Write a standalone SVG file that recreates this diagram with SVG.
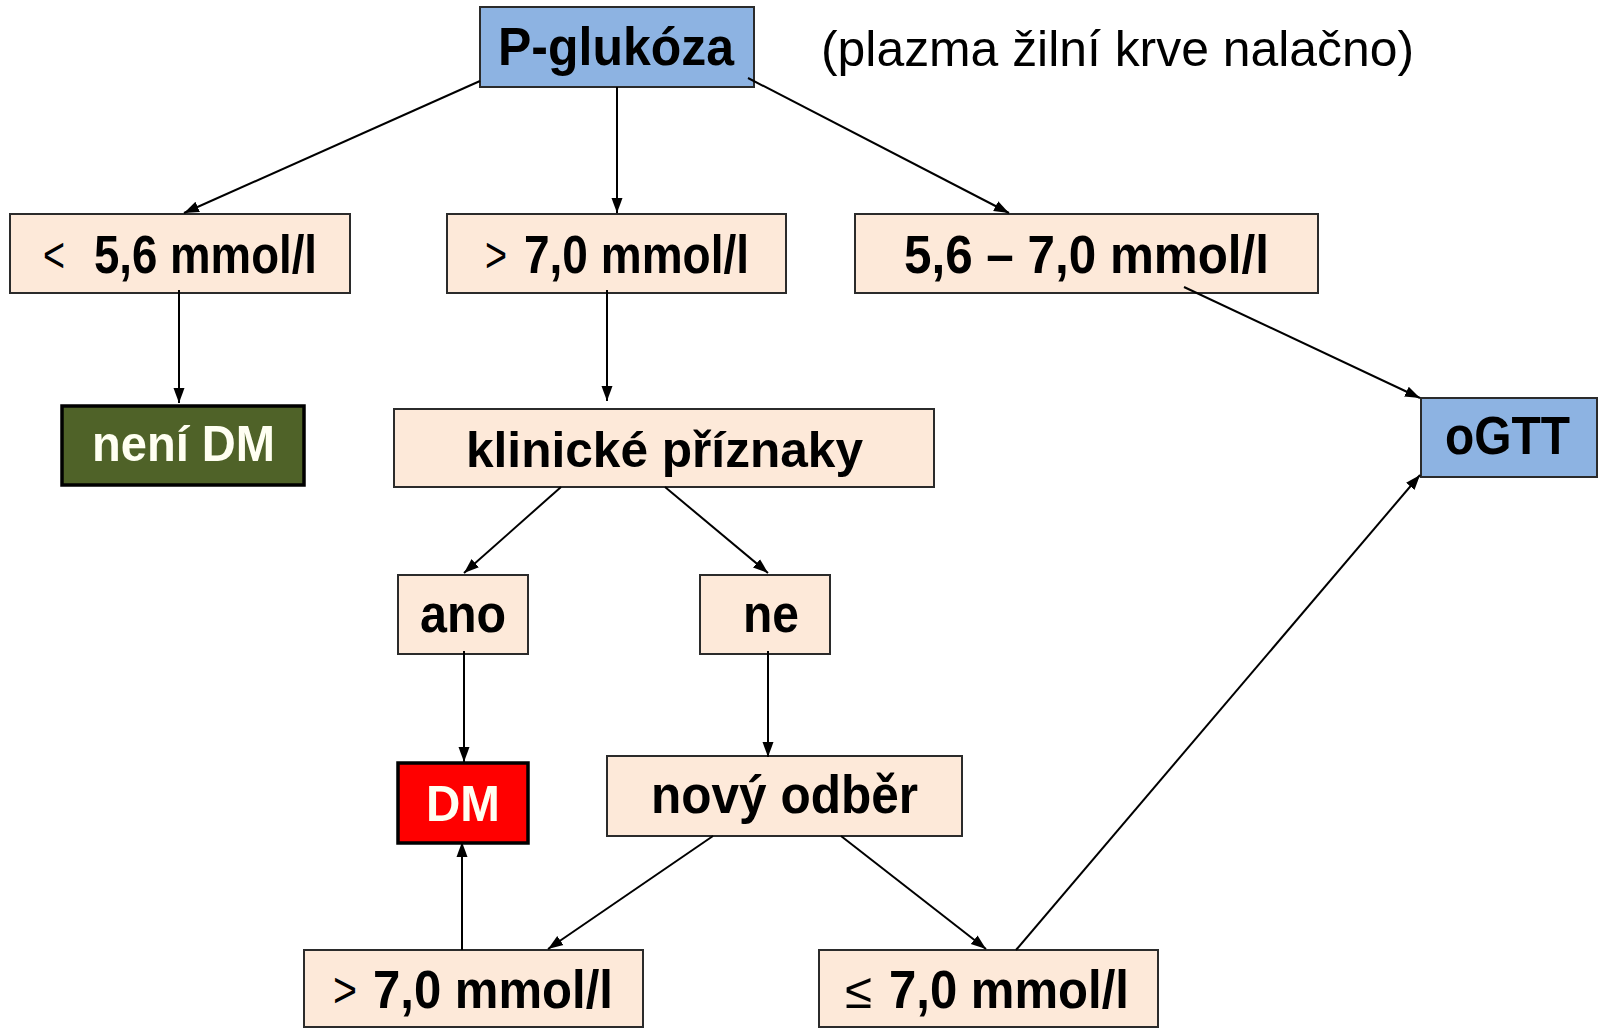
<svg xmlns="http://www.w3.org/2000/svg" width="1598" height="1028" viewBox="0 0 1598 1028">
  <defs>
    <marker id="arrow" markerUnits="userSpaceOnUse" markerWidth="16" markerHeight="14" refX="15" refY="7" orient="auto">
      <path d="M0,1.5 L15,7 L0,12.5 z" fill="#000"/>
    </marker>
    <style>
      .peach { fill: #FDE9D9; stroke: #2b2b2b; stroke-width: 2; }
      .blue { fill: #8DB3E2; stroke: #2b2b2b; stroke-width: 2; }
      .olive { fill: #4F6228; stroke: #000; stroke-width: 3.5; }
      .red { fill: #FF0000; stroke: #000; stroke-width: 3.5; }
      .lbl { font-family: "Liberation Sans", Arial, sans-serif; font-weight: bold; font-size: 50px; fill: #000; }
      .tall { font-size: 53px; }
      .sym { font-family: "Liberation Sans", Arial, sans-serif; font-weight: normal; font-size: 50px; fill: #000; }
      .light { fill: #FFFFF2; }
      .note { font-family: "Liberation Sans", Arial, sans-serif; font-weight: normal; font-size: 50px; fill: #000; }
      .conn line { stroke: #000; stroke-width: 2; marker-end: url(#arrow); }
    </style>
  </defs>
  <rect width="1598" height="1028" fill="#FFFFFF"/>

  <g id="p-glukoza">
    <rect class="blue" x="480" y="7" width="274" height="80"/>
    <text class="lbl tall" x="498" y="65" textLength="236" lengthAdjust="spacingAndGlyphs">P-glukóza</text>
  </g>

  <g id="note">
    <text class="note" x="821" y="66" textLength="593" lengthAdjust="spacingAndGlyphs">(plazma žilní krve nalačno)</text>
  </g>

  <g id="below-5-6">
    <rect class="peach" x="10" y="214" width="340" height="79"/>
    <text class="sym" x="43" y="272" textLength="22" lengthAdjust="spacingAndGlyphs">&lt;</text>
    <text class="lbl tall" x="94" y="273" textLength="223" lengthAdjust="spacingAndGlyphs">5,6 mmol/l</text>
  </g>

  <g id="above-7-0">
    <rect class="peach" x="447" y="214" width="339" height="79"/>
    <text class="sym" x="485" y="272" textLength="22" lengthAdjust="spacingAndGlyphs">&gt;</text>
    <text class="lbl tall" x="524" y="273" textLength="225" lengthAdjust="spacingAndGlyphs">7,0 mmol/l</text>
  </g>

  <g id="range-5-6-7-0">
    <rect class="peach" x="855" y="214" width="463" height="79"/>
    <text class="lbl tall" x="904" y="273" textLength="365" lengthAdjust="spacingAndGlyphs">5,6 – 7,0 mmol/l</text>
  </g>

  <g id="neni-dm">
    <rect class="olive" x="62" y="406" width="242" height="79"/>
    <text class="lbl light" x="92" y="461" textLength="183" lengthAdjust="spacingAndGlyphs">není DM</text>
  </g>

  <g id="klinicke-priznaky">
    <rect class="peach" x="394" y="409" width="540" height="78"/>
    <text class="lbl" x="466" y="467" textLength="397" lengthAdjust="spacingAndGlyphs">klinické příznaky</text>
  </g>

  <g id="ogtt">
    <rect class="blue" x="1421" y="398" width="176" height="79"/>
    <text class="lbl tall" x="1445" y="454" textLength="125" lengthAdjust="spacingAndGlyphs">oGTT</text>
  </g>

  <g id="ano">
    <rect class="peach" x="398" y="575" width="130" height="79"/>
    <text class="lbl tall" x="420" y="632" textLength="86" lengthAdjust="spacingAndGlyphs">ano</text>
  </g>

  <g id="ne">
    <rect class="peach" x="700" y="575" width="130" height="79"/>
    <text class="lbl tall" x="743" y="632" textLength="56" lengthAdjust="spacingAndGlyphs">ne</text>
  </g>

  <g id="dm">
    <rect class="red" x="398" y="763" width="130" height="80"/>
    <text class="lbl light" x="426" y="821" textLength="74" lengthAdjust="spacingAndGlyphs">DM</text>
  </g>

  <g id="novy-odber">
    <rect class="peach" x="607" y="756" width="355" height="80"/>
    <text class="lbl tall" x="651" y="813" textLength="267" lengthAdjust="spacingAndGlyphs">nový odběr</text>
  </g>

  <g id="retest-above-7-0">
    <rect class="peach" x="304" y="950" width="339" height="77"/>
    <text class="sym" x="333" y="1007" textLength="24" lengthAdjust="spacingAndGlyphs">&gt;</text>
    <text class="lbl tall" x="373" y="1008" textLength="240" lengthAdjust="spacingAndGlyphs">7,0 mmol/l</text>
  </g>

  <g id="retest-max-7-0">
    <rect class="peach" x="819" y="950" width="339" height="77"/>
    <text class="sym" x="845" y="1008" textLength="27" lengthAdjust="spacingAndGlyphs">≤</text>
    <text class="lbl tall" x="889" y="1008" textLength="240" lengthAdjust="spacingAndGlyphs">7,0 mmol/l</text>
  </g>

  <g id="connectors" class="conn">
    <line x1="480" y1="81" x2="184" y2="213"/>
    <line x1="617" y1="87" x2="617" y2="213"/>
    <line x1="748" y1="78" x2="1009" y2="213"/>
    <line x1="179" y1="290" x2="179" y2="403"/>
    <line x1="607" y1="290" x2="607" y2="401"/>
    <line x1="1184" y1="287" x2="1420" y2="398"/>
    <line x1="561" y1="487" x2="464" y2="573"/>
    <line x1="665" y1="487" x2="768" y2="573"/>
    <line x1="464" y1="651" x2="464" y2="762"/>
    <line x1="768" y1="651" x2="768" y2="757"/>
    <line x1="713" y1="836" x2="548" y2="949"/>
    <line x1="841" y1="836" x2="986" y2="949"/>
    <line x1="462" y1="950" x2="462" y2="842"/>
    <line x1="1016" y1="950" x2="1420" y2="475"/>
  </g>
</svg>
